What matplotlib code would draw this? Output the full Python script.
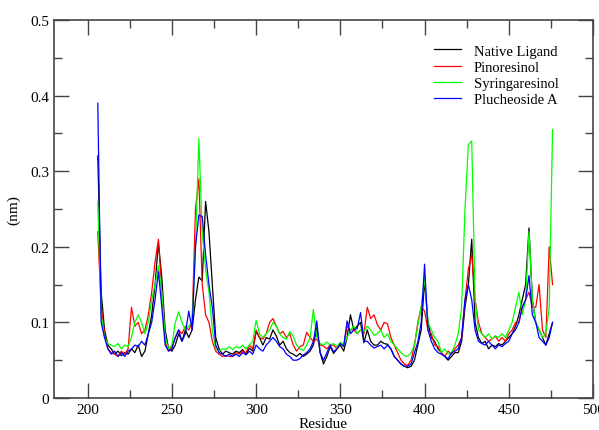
import numpy as np
import matplotlib
matplotlib.use("Agg")
import matplotlib.pyplot as plt
from matplotlib.ticker import MultipleLocator

plt.rcParams['font.family'] = ['Liberation Serif', 'DejaVu Serif']

# residue numbers, every second residue
residue = np.arange(206, 477, 2)

# RMSF values (nm)
native = [0.32, 0.14, 0.09, 0.07, 0.065, 0.058, 0.062, 0.056, 0.06, 0.058,
          0.065, 0.06, 0.07, 0.055, 0.062, 0.085, 0.11, 0.15, 0.205, 0.16,
          0.09, 0.065, 0.062, 0.07, 0.085, 0.075, 0.09, 0.08, 0.09, 0.13,
          0.16, 0.155, 0.26, 0.22, 0.15, 0.08, 0.065, 0.058, 0.062, 0.06,
          0.058, 0.062, 0.06, 0.064, 0.058, 0.066, 0.062, 0.088, 0.08, 0.07,
          0.08, 0.078, 0.09, 0.082, 0.07, 0.075, 0.065, 0.06, 0.058, 0.055,
          0.059, 0.055, 0.058, 0.062, 0.07, 0.093, 0.06, 0.045, 0.055, 0.068,
          0.059, 0.065, 0.07, 0.062, 0.08, 0.11, 0.09, 0.095, 0.1, 0.073,
          0.09, 0.075, 0.07, 0.07, 0.075, 0.072, 0.071, 0.065, 0.055, 0.05,
          0.045, 0.042, 0.04, 0.042, 0.05, 0.07, 0.09, 0.155, 0.1, 0.08,
          0.075, 0.065, 0.06, 0.055, 0.05, 0.055, 0.06, 0.06, 0.075, 0.12,
          0.15, 0.21, 0.1, 0.08, 0.072, 0.075, 0.065, 0.07, 0.068, 0.072,
          0.07, 0.075, 0.08, 0.085, 0.095, 0.11, 0.13, 0.15, 0.225, 0.13,
          0.1, 0.09, 0.08, 0.07, 0.085, 0.1]

pinoresinol = [0.22, 0.12, 0.085, 0.065, 0.06, 0.058, 0.055, 0.062, 0.058, 0.065,
               0.12, 0.095, 0.1, 0.085, 0.09, 0.11, 0.14, 0.18, 0.21, 0.14,
               0.075, 0.062, 0.068, 0.08, 0.09, 0.085, 0.095, 0.09, 0.1, 0.25,
               0.29, 0.15, 0.11, 0.1, 0.075, 0.062, 0.058, 0.055, 0.056, 0.055,
               0.055, 0.06, 0.058, 0.062, 0.06, 0.07, 0.065, 0.09, 0.08, 0.078,
               0.085, 0.1, 0.105, 0.095, 0.085, 0.088, 0.08, 0.085, 0.07, 0.062,
               0.068, 0.07, 0.087, 0.08, 0.075, 0.078, 0.07, 0.069, 0.065, 0.07,
               0.07, 0.065, 0.072, 0.07, 0.095, 0.09, 0.09, 0.085, 0.09, 0.085,
               0.12, 0.105, 0.11, 0.097, 0.09, 0.1, 0.098, 0.08, 0.07, 0.06,
               0.05, 0.045, 0.043, 0.05, 0.07, 0.1, 0.12, 0.115, 0.09, 0.085,
               0.07, 0.068, 0.06, 0.055, 0.062, 0.058, 0.065, 0.07, 0.08, 0.13,
               0.17, 0.19, 0.13, 0.1, 0.085, 0.08, 0.075, 0.078, 0.082, 0.075,
               0.08, 0.075, 0.085, 0.09, 0.1, 0.1, 0.12, 0.13, 0.14, 0.12,
               0.12, 0.15, 0.09, 0.08, 0.2, 0.15]

syringaresinol = [0.26, 0.11, 0.08, 0.072, 0.07, 0.068, 0.072, 0.065, 0.07, 0.068,
                  0.08, 0.1, 0.11, 0.1, 0.085, 0.1, 0.13, 0.15, 0.175, 0.14,
                  0.08, 0.065, 0.07, 0.1, 0.114, 0.1, 0.09, 0.095, 0.1, 0.2,
                  0.343, 0.22, 0.17, 0.14, 0.09, 0.065, 0.062, 0.065, 0.064, 0.068,
                  0.064, 0.068, 0.066, 0.07, 0.065, 0.07, 0.075, 0.103, 0.085, 0.08,
                  0.085, 0.09, 0.1, 0.095, 0.085, 0.08, 0.078, 0.088, 0.082, 0.07,
                  0.065, 0.063, 0.07, 0.08, 0.117, 0.08, 0.072, 0.07, 0.074, 0.07,
                  0.072, 0.068, 0.074, 0.07, 0.08, 0.09, 0.095, 0.085, 0.09, 0.088,
                  0.095, 0.09, 0.083, 0.085, 0.09, 0.08, 0.085, 0.075, 0.07, 0.065,
                  0.06, 0.056, 0.055, 0.06, 0.07, 0.096, 0.12, 0.16, 0.1, 0.09,
                  0.08, 0.075, 0.06, 0.065, 0.058, 0.06, 0.07, 0.085, 0.12, 0.25,
                  0.335, 0.34, 0.13, 0.09, 0.085, 0.08, 0.085, 0.078, 0.082, 0.08,
                  0.085, 0.08, 0.09, 0.1, 0.12, 0.14, 0.11, 0.13, 0.22, 0.13,
                  0.1, 0.09, 0.08, 0.085, 0.12, 0.355]

plucheoside = [0.39, 0.1, 0.08, 0.065, 0.058, 0.062, 0.055, 0.06, 0.055, 0.062,
               0.065, 0.07, 0.068, 0.075, 0.07, 0.085, 0.1, 0.13, 0.167, 0.12,
               0.07, 0.062, 0.065, 0.08, 0.09, 0.075, 0.085, 0.115, 0.09, 0.2,
               0.242, 0.24, 0.19, 0.15, 0.12, 0.07, 0.06, 0.058, 0.055, 0.058,
               0.055, 0.058, 0.055, 0.06, 0.057, 0.062, 0.058, 0.07, 0.065, 0.062,
               0.07, 0.075, 0.08, 0.075, 0.068, 0.065, 0.058, 0.055, 0.05, 0.05,
               0.052, 0.057, 0.06, 0.065, 0.075, 0.102, 0.06, 0.05, 0.06, 0.07,
               0.061, 0.065, 0.072, 0.068, 0.102, 0.085, 0.09, 0.092, 0.113, 0.075,
               0.075, 0.07, 0.066, 0.068, 0.07, 0.065, 0.07, 0.065, 0.055, 0.05,
               0.045, 0.042, 0.042, 0.045, 0.06, 0.074, 0.1, 0.177, 0.09, 0.075,
               0.065, 0.06, 0.058, 0.055, 0.052, 0.06, 0.062, 0.065, 0.08, 0.13,
               0.15, 0.13, 0.09, 0.075, 0.072, 0.07, 0.075, 0.07, 0.065, 0.07,
               0.068, 0.072, 0.075, 0.085, 0.09, 0.1, 0.12, 0.13, 0.162, 0.11,
               0.1, 0.08, 0.075, 0.07, 0.08, 0.1]

labels = ["Native Ligand", "Pinoresinol", "Syringaresinol", "Plucheoside A"]
colors = ["black", "#ff0000", "#00ff00", "#0000ff"]

fig = plt.figure(figsize=(5.99, 4.31), dpi=100)
ax = fig.add_axes([54/599, 1 - 399/431, 539/599, 378/431])

for y, lab, c in zip([native, pinoresinol, syringaresinol, plucheoside], labels, colors):
    ax.plot(residue, y, color=c, lw=0.9, label=lab)

ax.set_xlim(180, 500)
ax.set_ylim(0, 0.5)
ax.xaxis.set_major_locator(MultipleLocator(50))
ax.xaxis.set_minor_locator(MultipleLocator(25))
ax.yaxis.set_major_locator(MultipleLocator(0.1))
ax.yaxis.set_minor_locator(MultipleLocator(0.05))
ax.yaxis.set_major_formatter(plt.FuncFormatter(lambda v, p: "0" if v == 0 else "%g" % v))
ax.tick_params(which='both', direction='in', top=True, right=True, labelsize=11, color='#444444')
ax.tick_params(which='major', length=11, width=1)
ax.tick_params(which='minor', length=6, width=1)
for s in ax.spines.values():
    s.set_color('#444444')
    s.set_linewidth(1.2)

ax.set_xlabel("Residue", fontsize=11, labelpad=1)
ax.set_ylabel("(nm)", fontsize=11)
ax.yaxis.set_label_coords(-0.063, 0.5)

ax.legend(loc='upper left', bbox_to_anchor=(0.692, 0.955), frameon=False, fontsize=10.5,
          handlelength=1.8, handletextpad=0.9, labelspacing=0.2, borderpad=0)

fig.savefig("out.png", dpi=100)
